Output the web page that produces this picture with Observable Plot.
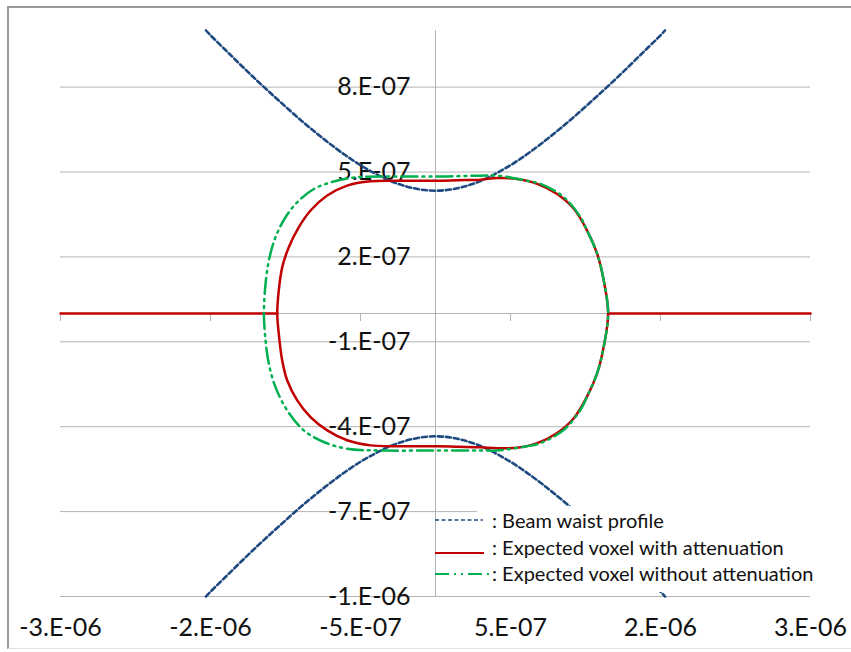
<!DOCTYPE html>
<html>
<head>
<meta charset="utf-8">
<script src="https://cdn.jsdelivr.net/npm/d3@7"></script>
<script src="https://cdn.jsdelivr.net/npm/@observablehq/plot@0.6"></script>
<style>
  html, body { margin: 0; padding: 0; background: #fff; overflow: hidden; }
  #wrap { position: relative; width: 851px; height: 652px; font-family: Lato, "Open Sans", sans-serif; }
  #border { position: absolute; left: 7px; top: 6px; width: 860px; height: 643px;
            border-left: 2px solid #9a9a9a; border-top: 2px solid #9a9a9a; border-bottom: 1px solid #e2e2e2; box-sizing: border-box; }
  #chart { position: absolute; left: 0; top: 0; }
  #legendBox { position: absolute; left: 477px; top: 506px; width: 345px; height: 86px; background: #fff; }
  #legendLines { position: absolute; left: 433px; top: 505px; }
  .lt { position: absolute; left: 492px; font-size: 20px; color: #111; white-space: nowrap; line-height: 20px; }
</style>
</head>
<body>
<div id="wrap">
  <div id="border"></div>
  <div id="chart"></div>
  <div id="legendBox"></div>
  <svg id="legendLines" width="62" height="86"></svg>
  <div id="legendText"></div>
</div>
<script>
// ---- axis ticks ----
const xTicks = [-2.5e-6, -1.5e-6, -0.5e-6, 0.5e-6, 1.5e-6, 2.5e-6];
const xTickLabels = ["-3.E-06", "-2.E-06", "-5.E-07", "5.E-07", "2.E-06", "3.E-06"];
const yTicks = [-1e-6, -7e-7, -4e-7, -1e-7, 2e-7, 5e-7, 8e-7];
const yTickLabels = ["-1.E-06", "-7.E-07", "-4.E-07", "-1.E-07", "2.E-07", "5.E-07", "8.E-07"];

// ---- series names ----
const seriesNames = [": Beam waist profile", ": Expected voxel with attenuation", ": Expected voxel without attenuation"];

// ---- Beam waist profile (upper and lower branches) ----
const beamX = [-1.53e-6, -1.5e-6, -1.4e-6, -1.3e-6, -1.2e-6, -1.1e-6, -1.0e-6, -0.9e-6, -0.8e-6, -0.7e-6, -0.6e-6, -0.5e-6, -0.4e-6, -0.3e-6, -0.2e-6, -0.1e-6, 0,
               0.1e-6, 0.2e-6, 0.3e-6, 0.4e-6, 0.5e-6, 0.6e-6, 0.7e-6, 0.8e-6, 0.9e-6, 1.0e-6, 1.1e-6, 1.2e-6, 1.3e-6, 1.4e-6, 1.5e-6, 1.53e-6];
const beamUpperY = [10.0e-7, 9.83e-7, 9.31e-7, 8.79e-7, 8.28e-7, 7.79e-7, 7.31e-7, 6.84e-7, 6.40e-7, 5.98e-7, 5.59e-7, 5.24e-7, 4.94e-7, 4.68e-7, 4.50e-7, 4.38e-7, 4.34e-7,
                    4.38e-7, 4.50e-7, 4.68e-7, 4.94e-7, 5.24e-7, 5.59e-7, 5.98e-7, 6.40e-7, 6.84e-7, 7.31e-7, 7.79e-7, 8.28e-7, 8.79e-7, 9.31e-7, 9.83e-7, 10.0e-7];
const beamLowerY = [-10.0e-7, -9.83e-7, -9.31e-7, -8.79e-7, -8.28e-7, -7.79e-7, -7.31e-7, -6.84e-7, -6.40e-7, -5.98e-7, -5.59e-7, -5.24e-7, -4.94e-7, -4.68e-7, -4.50e-7, -4.38e-7, -4.34e-7,
                    -4.38e-7, -4.50e-7, -4.68e-7, -4.94e-7, -5.24e-7, -5.59e-7, -5.98e-7, -6.40e-7, -6.84e-7, -7.31e-7, -7.79e-7, -8.28e-7, -8.79e-7, -9.31e-7, -9.83e-7, -10.0e-7];

// ---- Expected voxel with attenuation (closed outline + flat tails at 0) ----
const redX = [1.151e-6, 1.122e-6, 1.078e-6, 1.011e-6, 0.922e-6, 0.811e-6, 0.678e-6, 0.544e-6, 0.411e-6, 0.30e-6, 0.15e-6, 0.011e-6, -0.255e-6, -0.433e-6, -0.589e-6, -0.722e-6, -0.833e-6, -0.911e-6, -0.978e-6, -1.022e-6, -1.045e-6, -1.055e-6,
              -1.045e-6, -1.022e-6, -0.989e-6, -0.922e-6, -0.833e-6, -0.722e-6, -0.589e-6, -0.433e-6, -0.255e-6, 0.011e-6, 0.15e-6, 0.30e-6, 0.411e-6, 0.544e-6, 0.678e-6, 0.811e-6, 0.922e-6, 1.011e-6, 1.078e-6, 1.122e-6];
const redY = [0, 1.16e-7, 2.11e-7, 2.93e-7, 3.70e-7, 4.22e-7, 4.58e-7, 4.75e-7, 4.79e-7, 4.73e-7, 4.71e-7, 4.69e-7, 4.69e-7, 4.67e-7, 4.52e-7, 4.17e-7, 3.64e-7, 3.05e-7, 2.34e-7, 1.63e-7, 0.81e-7, 0,
              -0.71e-7, -1.66e-7, -2.36e-7, -3.07e-7, -3.66e-7, -4.13e-7, -4.48e-7, -4.66e-7, -4.69e-7, -4.69e-7, -4.71e-7, -4.73e-7, -4.76e-7, -4.74e-7, -4.58e-7, -4.22e-7, -3.70e-7, -2.93e-7, -2.11e-7, -1.16e-7];
const redTailX = [-2.5e-6, -1.055e-6, 1.151e-6, 2.5e-6];
const redTailY = [0, 0, 0, 0];
const redTailSide = ["left", "left", "right", "right"];

// ---- Expected voxel without attenuation (closed outline) ----
const greenX = [1.151e-6, 1.122e-6, 1.078e-6, 1.011e-6, 0.967e-6, 0.856e-6, 0.70e-6, 0.611e-6, 0.411e-6, 0.30e-6, 0.011e-6, -0.367e-6, -0.567e-6, -0.70e-6, -0.811e-6, -0.922e-6, -1.0e-6, -1.067e-6, -1.111e-6, -1.133e-6, -1.144e-6,
                -1.133e-6, -1.111e-6, -1.067e-6, -0.989e-6, -0.878e-6, -0.744e-6, -0.589e-6, -0.367e-6, 0.011e-6, 0.30e-6, 0.411e-6, 0.611e-6, 0.70e-6, 0.856e-6, 0.967e-6, 1.011e-6, 1.078e-6, 1.122e-6];
const greenY = [0, 1.16e-7, 2.11e-7, 2.93e-7, 3.40e-7, 4.11e-7, 4.58e-7, 4.69e-7, 4.87e-7, 4.87e-7, 4.84e-7, 4.84e-7, 4.79e-7, 4.63e-7, 4.40e-7, 3.93e-7, 3.40e-7, 2.69e-7, 1.87e-7, 1.05e-7, 0,
                -0.95e-7, -1.78e-7, -2.60e-7, -3.42e-7, -4.13e-7, -4.54e-7, -4.78e-7, -4.84e-7, -4.84e-7, -4.84e-7, -4.84e-7, -4.69e-7, -4.58e-7, -4.11e-7, -3.40e-7, -2.93e-7, -2.11e-7, -1.16e-7];

// ---- build tables ----
const beamUpper = beamX.map((x, i) => ({x, y: beamUpperY[i]}));
const beamLower = beamX.map((x, i) => ({x, y: beamLowerY[i]}));
const red = redX.map((x, i) => ({x, y: redY[i]}));
const redTail = redTailX.map((x, i) => ({x, y: redTailY[i], side: redTailSide[i]}));
const green = greenX.map((x, i) => ({x, y: greenY[i]}));
const yLabelMap = new Map(yTicks.map((t, i) => [t, yTickLabels[i]]));
const xLabelMap = new Map(xTicks.map((t, i) => [t, xTickLabels[i]]));

const colors = {beam: "#1f4a80", red: "#c00000", green: "#00b050"};
const greenDash = "16,5,2,5,2,5";

const chart = Plot.plot({
  width: 851,
  height: 652,
  marginLeft: 60,
  marginRight: 41,
  marginTop: 30,
  marginBottom: 56,
  style: {background: "transparent", fontFamily: "Lato, 'Open Sans', sans-serif", overflow: "visible"},
  x: {domain: [-2.5e-6, 2.5e-6], axis: null},
  y: {domain: [-1e-6, 1e-6], axis: null},
  marks: [
    Plot.ruleY(yTicks, {stroke: "#b4b4b4", strokeWidth: 1}),
    Plot.ruleY([0], {stroke: "#b4b4b4", strokeWidth: 1}),
    Plot.ruleX([0], {stroke: "#b4b4b4", strokeWidth: 1}),
    Plot.ruleX(xTicks, {x: d => d, y1: () => 0, y2: () => 0, insetTop: 8, insetBottom: 0, stroke: "#b4b4b4", strokeWidth: 1}),
    Plot.text(yTicks, {x: () => 0, y: d => d, text: d => yLabelMap.get(d), textAnchor: "end", dx: -25, fontSize: 25, fill: "#111"}),
    Plot.text(xTicks, {x: d => d, text: d => xLabelMap.get(d), frameAnchor: "bottom", dy: 39, fontSize: 25, fill: "#111"}),
    Plot.line(beamUpper, {x: "x", y: "y", stroke: colors.beam, strokeWidth: 2.6, strokeDasharray: "5,3", curve: "catmull-rom"}),
    Plot.line(beamLower, {x: "x", y: "y", stroke: colors.beam, strokeWidth: 2.6, strokeDasharray: "5,3", curve: "catmull-rom"}),
    Plot.line(redTail, {x: "x", y: "y", z: "side", stroke: colors.red, strokeWidth: 2.5}),
    Plot.line(red, {x: "x", y: "y", stroke: colors.red, strokeWidth: 2.5, curve: "catmull-rom-closed"}),
    Plot.line(green, {x: "x", y: "y", stroke: colors.green, strokeWidth: 2.5, strokeDasharray: greenDash, curve: "catmull-rom-closed"})
  ]
});
document.getElementById("chart").appendChild(chart);

// ---- legend ----
const ll = d3.select("#legendLines");
const legendRows = [
  {y: 15, stroke: colors.beam, dash: "4,2.5", w: 1.6, x2: 50},
  {y: 48, stroke: colors.red, dash: null, w: 2.2, x2: 51},
  {y: 69, stroke: colors.green, dash: "14,5,2,5,2,5", w: 2.2, x2: 57}
];
legendRows.forEach(r => {
  ll.append("line").attr("x1", 2).attr("x2", r.x2).attr("y1", r.y).attr("y2", r.y)
    .attr("stroke", r.stroke).attr("stroke-width", r.w).attr("stroke-dasharray", r.dash);
});
const lt = d3.select("#legendText");
const textTops = [510, 537, 563];
seriesNames.forEach((s, i) => {
  lt.append("div").attr("class", "lt").style("top", textTops[i] + "px").text(s);
});
</script>
</body>
</html>
